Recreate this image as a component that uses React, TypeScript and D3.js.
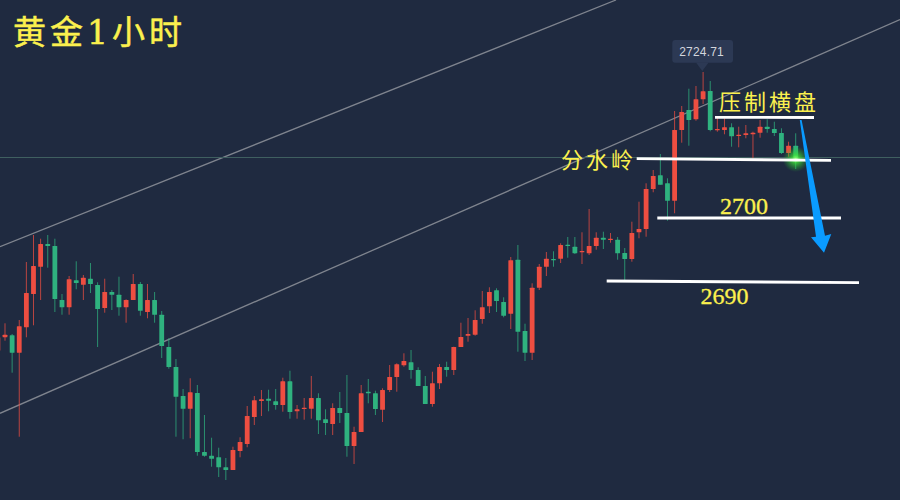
import * as d3 from "d3";

// 1h gold candles, oldest first
const opens = [
  2677.33, 2679.61, 2679.95, 2676.99, 2681.31, 2686.97, 2691.61, 2695.47, 2695.13, 2685.95,
  2684.71, 2689.30, 2688.55, 2689.57, 2688.50, 2684.59, 2687.31, 2686.85, 2684.71, 2685.95,
  2688.67, 2683.91, 2685.95, 2683.45, 2677.96, 2674.56, 2669.63, 2667.47, 2670.14, 2660.11,
  2659.48, 2659.21, 2657.51, 2657.05, 2660.28, 2661.47, 2666.06, 2668.78, 2669.17, 2668.73,
  2668.10, 2672.13, 2667.03, 2667.42, 2667.47, 2669.29, 2665.67, 2664.87, 2667.59, 2666.74,
  2661.13, 2663.51, 2670.36, 2670.09, 2667.30, 2670.65, 2672.86, 2674.85, 2675.36, 2674.05,
  2671.33, 2668.27, 2671.79, 2674.56, 2674.05, 2677.96, 2679.88, 2680.05, 2682.72, 2684.88,
  2687.60, 2685.61, 2683.62, 2692.80, 2680.68, 2676.99, 2688.04, 2691.61, 2692.92, 2692.97,
  2695.35, 2695.01, 2694.06, 2693.89, 2695.13, 2696.54, 2696.15, 2696.20, 2693.94, 2692.92,
  2697.46, 2698.02, 2704.82, 2707.15, 2705.79, 2702.83, 2714.85, 2718.25, 2716.67, 2720.07,
  2721.48, 2714.80, 2714.85, 2715.31, 2713.83, 2714.00, 2714.12, 2714.39, 2715.41, 2715.02,
  2714.34, 2710.94, 2712.18,
];
const highs = [
  2680.85, 2681.99, 2680.17, 2682.55, 2692.41, 2697.00, 2696.37, 2697.00, 2696.37, 2686.97,
  2690.03, 2692.53, 2690.20, 2692.24, 2688.96, 2689.57, 2687.65, 2689.91, 2686.07, 2690.37,
  2689.01, 2688.67, 2687.31, 2684.08, 2679.44, 2675.92, 2670.82, 2672.64, 2671.50, 2666.40,
  2662.54, 2660.84, 2659.09, 2661.01, 2662.61, 2667.93, 2669.63, 2670.65, 2670.70, 2670.82,
  2672.74, 2673.93, 2668.10, 2669.29, 2673.03, 2670.09, 2667.37, 2668.39, 2670.31, 2673.20,
  2664.41, 2671.50, 2672.52, 2670.53, 2670.94, 2674.90, 2675.19, 2676.89, 2677.45, 2674.51,
  2673.03, 2673.76, 2675.07, 2675.46, 2678.01, 2682.09, 2682.89, 2684.20, 2687.48, 2688.11,
  2687.94, 2686.41, 2693.26, 2695.30, 2681.92, 2688.79, 2692.07, 2694.11, 2694.23, 2695.59,
  2696.66, 2696.66, 2697.46, 2701.42, 2697.46, 2697.56, 2697.34, 2696.66, 2694.79, 2699.26,
  2702.66, 2705.79, 2708.05, 2710.77, 2706.64, 2718.08, 2718.93, 2721.87, 2722.33, 2724.71,
  2723.18, 2716.89, 2716.84, 2715.99, 2715.41, 2715.70, 2714.56, 2716.55, 2716.67, 2716.26,
  2715.14, 2712.86, 2714.29,
];
const lows = [
  2676.77, 2679.03, 2673.59, 2662.71, 2679.61, 2681.65, 2685.95, 2691.44, 2683.91, 2683.45,
  2683.45, 2687.77, 2685.95, 2687.14, 2677.96, 2683.79, 2684.25, 2683.28, 2682.09, 2685.95,
  2683.28, 2682.84, 2682.09, 2676.09, 2674.27, 2662.71, 2662.27, 2662.44, 2659.48, 2659.31,
  2657.61, 2655.86, 2655.35, 2657.05, 2659.21, 2660.91, 2664.70, 2666.23, 2667.03, 2667.30,
  2666.96, 2665.77, 2665.77, 2665.60, 2665.77, 2663.17, 2663.00, 2663.00, 2665.04, 2659.31,
  2658.07, 2663.51, 2668.39, 2666.40, 2665.21, 2670.31, 2670.36, 2674.61, 2672.57, 2671.33,
  2668.27, 2667.81, 2670.82, 2672.91, 2673.20, 2677.96, 2678.86, 2679.88, 2681.92, 2683.74,
  2683.91, 2683.01, 2681.02, 2677.16, 2675.58, 2675.75, 2687.65, 2690.03, 2691.61, 2692.24,
  2693.14, 2693.77, 2692.07, 2693.60, 2694.50, 2694.62, 2695.69, 2692.80, 2689.35, 2692.46,
  2696.44, 2696.71, 2704.26, 2705.55, 2699.43, 2700.69, 2712.69, 2712.18, 2716.43, 2719.27,
  2714.63, 2714.56, 2714.12, 2712.01, 2711.91, 2713.44, 2710.04, 2713.54, 2714.39, 2713.83,
  2710.77, 2710.31, 2708.22,
];
const closes = [
  2679.61, 2680.05, 2676.99, 2681.48, 2687.14, 2691.73, 2695.47, 2695.13, 2686.12, 2684.71,
  2689.47, 2688.84, 2689.74, 2688.67, 2684.42, 2687.31, 2686.85, 2684.71, 2685.95, 2688.67,
  2684.13, 2685.95, 2683.45, 2678.13, 2674.56, 2669.51, 2667.47, 2670.26, 2660.11, 2659.48,
  2658.97, 2657.51, 2657.05, 2660.45, 2661.81, 2666.23, 2668.90, 2669.07, 2668.83, 2668.10,
  2672.13, 2666.91, 2667.37, 2667.64, 2669.29, 2665.50, 2665.04, 2667.59, 2666.74, 2661.13,
  2663.51, 2670.09, 2670.09, 2667.42, 2670.65, 2672.86, 2675.02, 2675.58, 2674.05, 2671.33,
  2668.27, 2671.79, 2674.56, 2674.05, 2677.96, 2679.66, 2680.17, 2682.55, 2684.71, 2687.31,
  2685.78, 2683.28, 2692.70, 2680.56, 2676.99, 2688.04, 2691.61, 2692.97, 2692.70, 2695.30,
  2695.13, 2693.89, 2694.28, 2695.13, 2696.54, 2696.20, 2696.37, 2693.89, 2692.92, 2697.34,
  2698.02, 2704.82, 2707.03, 2705.55, 2702.83, 2714.85, 2717.91, 2716.55, 2720.07, 2721.43,
  2714.85, 2715.02, 2715.31, 2713.78, 2714.05, 2714.29, 2714.39, 2715.41, 2715.02, 2714.34,
  2710.94, 2712.18, 2709.75,
];

const title = "黄金1小时";
const lastHigh = "2724.71";
const labelPress = "压制横盘";
const labelSplit = "分水岭";
const label2700 = "2700";
const label2690 = "2690";

const WIDTH = 900;
const HEIGHT = 500;
const UP = "#ee4e41";
const DOWN = "#2fb27f";
const YELLOW = "#fbf04e";
const LABEL_FONT = '"Liberation Serif", "Noto Sans CJK SC", serif';

const x = d3.scaleLinear().domain([0, opens.length - 1]).range([-2.12, 795.7]);
const y = d3.scaleLinear().domain([2736.95, 2651.95]).range([0, HEIGHT]);

const glowStops = [
  { offset: "0%", color: "#9dff7e", opacity: 1 },
  { offset: "30%", color: "#3fe63a", opacity: 0.75 },
  { offset: "100%", color: "#22b52c", opacity: 0 },
];

export default function App() {
  return (
    <svg
      width={WIDTH}
      height={HEIGHT}
      style={{ position: "absolute", left: 0, top: 0, display: "block", background: "#1f2a40" }}
    >
      <defs>
        <radialGradient id="glow">
          {glowStops.map((s) => (
            <stop key={s.offset} offset={s.offset} stopColor={s.color} stopOpacity={s.opacity} />
          ))}
        </radialGradient>
      </defs>

      {/* channel lines and current price line */}
      <line x1={0} y1={246.7} x2={616} y2={0} stroke="#7f848e" strokeWidth={1.3} />
      <line x1={0} y1={413.3} x2={900} y2={19.6} stroke="#7f848e" strokeWidth={1.3} />
      <line x1={0} y1={157.5} x2={900} y2={157.5} stroke="#3f5f60" strokeWidth={1} />

      {/* candles */}
      {opens.map((o, i) => {
        const c = closes[i];
        const color = c >= o ? UP : DOWN;
        const top = y(Math.max(o, c));
        const bottom = y(Math.min(o, c));
        const cx = x(i);
        return (
          <g key={i}>
            <line
              x1={cx}
              x2={cx}
              y1={y(highs[i])}
              y2={y(lows[i])}
              stroke={color}
              strokeWidth={1}
              strokeOpacity={0.75}
            />
            <rect
              x={cx - 2.4}
              y={top}
              width={4.8}
              height={Math.max(bottom - top, 1.2)}
              fill={color}
              rx={0.5}
            />
          </g>
        );
      })}

      <circle cx={795.7} cy={159} r={13} fill="url(#glow)" />

      {/* tooltip on the high */}
      <rect x={672.3} y={40} width={60.7} height={22.7} rx={3} fill="#2c3954" />
      <path d="M696,62.5L702.3,71L708.6,62.5Z" fill="#2c3954" />
      <text
        x={701.6}
        y={55.6}
        textAnchor="middle"
        fontSize={12}
        letterSpacing={0.2}
        fill="#d3d6dd"
        fontFamily='"Liberation Sans", sans-serif'
      >
        {lastHigh}
      </text>

      {/* hand drawn levels */}
      <g stroke="#ffffff" strokeWidth={2.8}>
        <line x1={715} y1={117.3} x2={814} y2={117.5} />
        <line x1={636.7} y1={158.7} x2={831} y2={160.3} />
        <line x1={657.3} y1={218} x2={841} y2={218} />
        <line x1={606.7} y1={281} x2={859} y2={282.6} />
      </g>

      {/* arrow */}
      <path
        d="M799.8,120L801.6,120L825,235.7L831.3,234L824,252.7L811,237.3L816,236.7Z"
        fill="#0a9bff"
      />

      <g fill={YELLOW} fontFamily={LABEL_FONT}>
        <text
          x={13}
          y={44}
          fontSize={33}
          letterSpacing={4}
          stroke={YELLOW}
          strokeWidth={0.5}
          fontFamily='"DejaVu Serif", "Noto Sans CJK SC", serif'
        >
          {title}
        </text>
        <text x={719} y={110} fontSize={22} letterSpacing={3}>
          {labelPress}
        </text>
        <text x={561} y={168} fontSize={22} letterSpacing={3}>
          {labelSplit}
        </text>
        <text x={720} y={213.5} fontSize={24} stroke={YELLOW} strokeWidth={0.3}>
          {label2700}
        </text>
        <text x={700.5} y={303.5} fontSize={24} stroke={YELLOW} strokeWidth={0.3}>
          {label2690}
        </text>
      </g>
    </svg>
  );
}
